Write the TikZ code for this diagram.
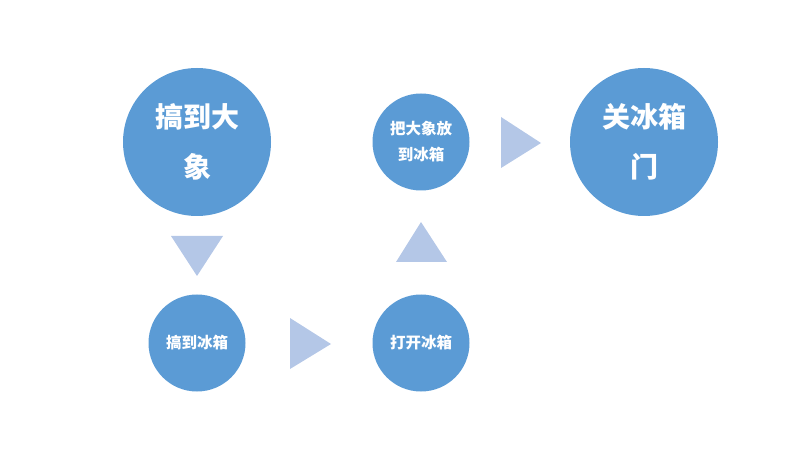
\documentclass[tikz,border=0pt]{standalone}
\usepackage{fontspec}
\newfontfamily\cjk{Noto Sans CJK SC}
\usetikzlibrary{positioning, calc}
\definecolor{stepblue}{HTML}{5B9BD5}
\definecolor{triblue}{HTML}{B4C7E7}
\tikzset{
  bigc/.style   ={circle, fill=stepblue, minimum size=148pt, inner sep=0pt, text=white, align=center, font=\cjk\bfseries\fontsize{28}{50}\selectfont},
  smallc/.style ={circle, fill=stepblue, minimum size=97pt, inner sep=0pt, text=white, align=center, font=\cjk\bfseries\fontsize{15.5}{26}\selectfont},
  tri/.style    ={fill=triblue},
}
\begin{document}
\begin{tikzpicture}[x=1pt, y=-1pt]
  \useasboundingbox (0,0) rectangle (803,462);
  \node[bigc]   (get)    at (197,142) {搞到大\\象};
  \node[smallc] (fridge) at (197,343) {搞到冰箱};
  \node[smallc] (open)   at (421,343) {打开冰箱};
  \node[smallc] (put)    at (421,142) {把大象放\\到冰箱};
  \node[bigc]   (close)  at (644,142) {关冰箱\\门};
  % arrows between the steps
  \fill[tri] (171,236) -- (223,236) -- (197,276) -- cycle;
  \fill[tri] (290,318) -- (290,369) -- (331,344) -- cycle;
  \fill[tri] (396,262) -- (447,262) -- (421,222) -- cycle;
  \fill[tri] (501,117) -- (501,168) -- (541,143) -- cycle;
\end{tikzpicture}
\end{document}
